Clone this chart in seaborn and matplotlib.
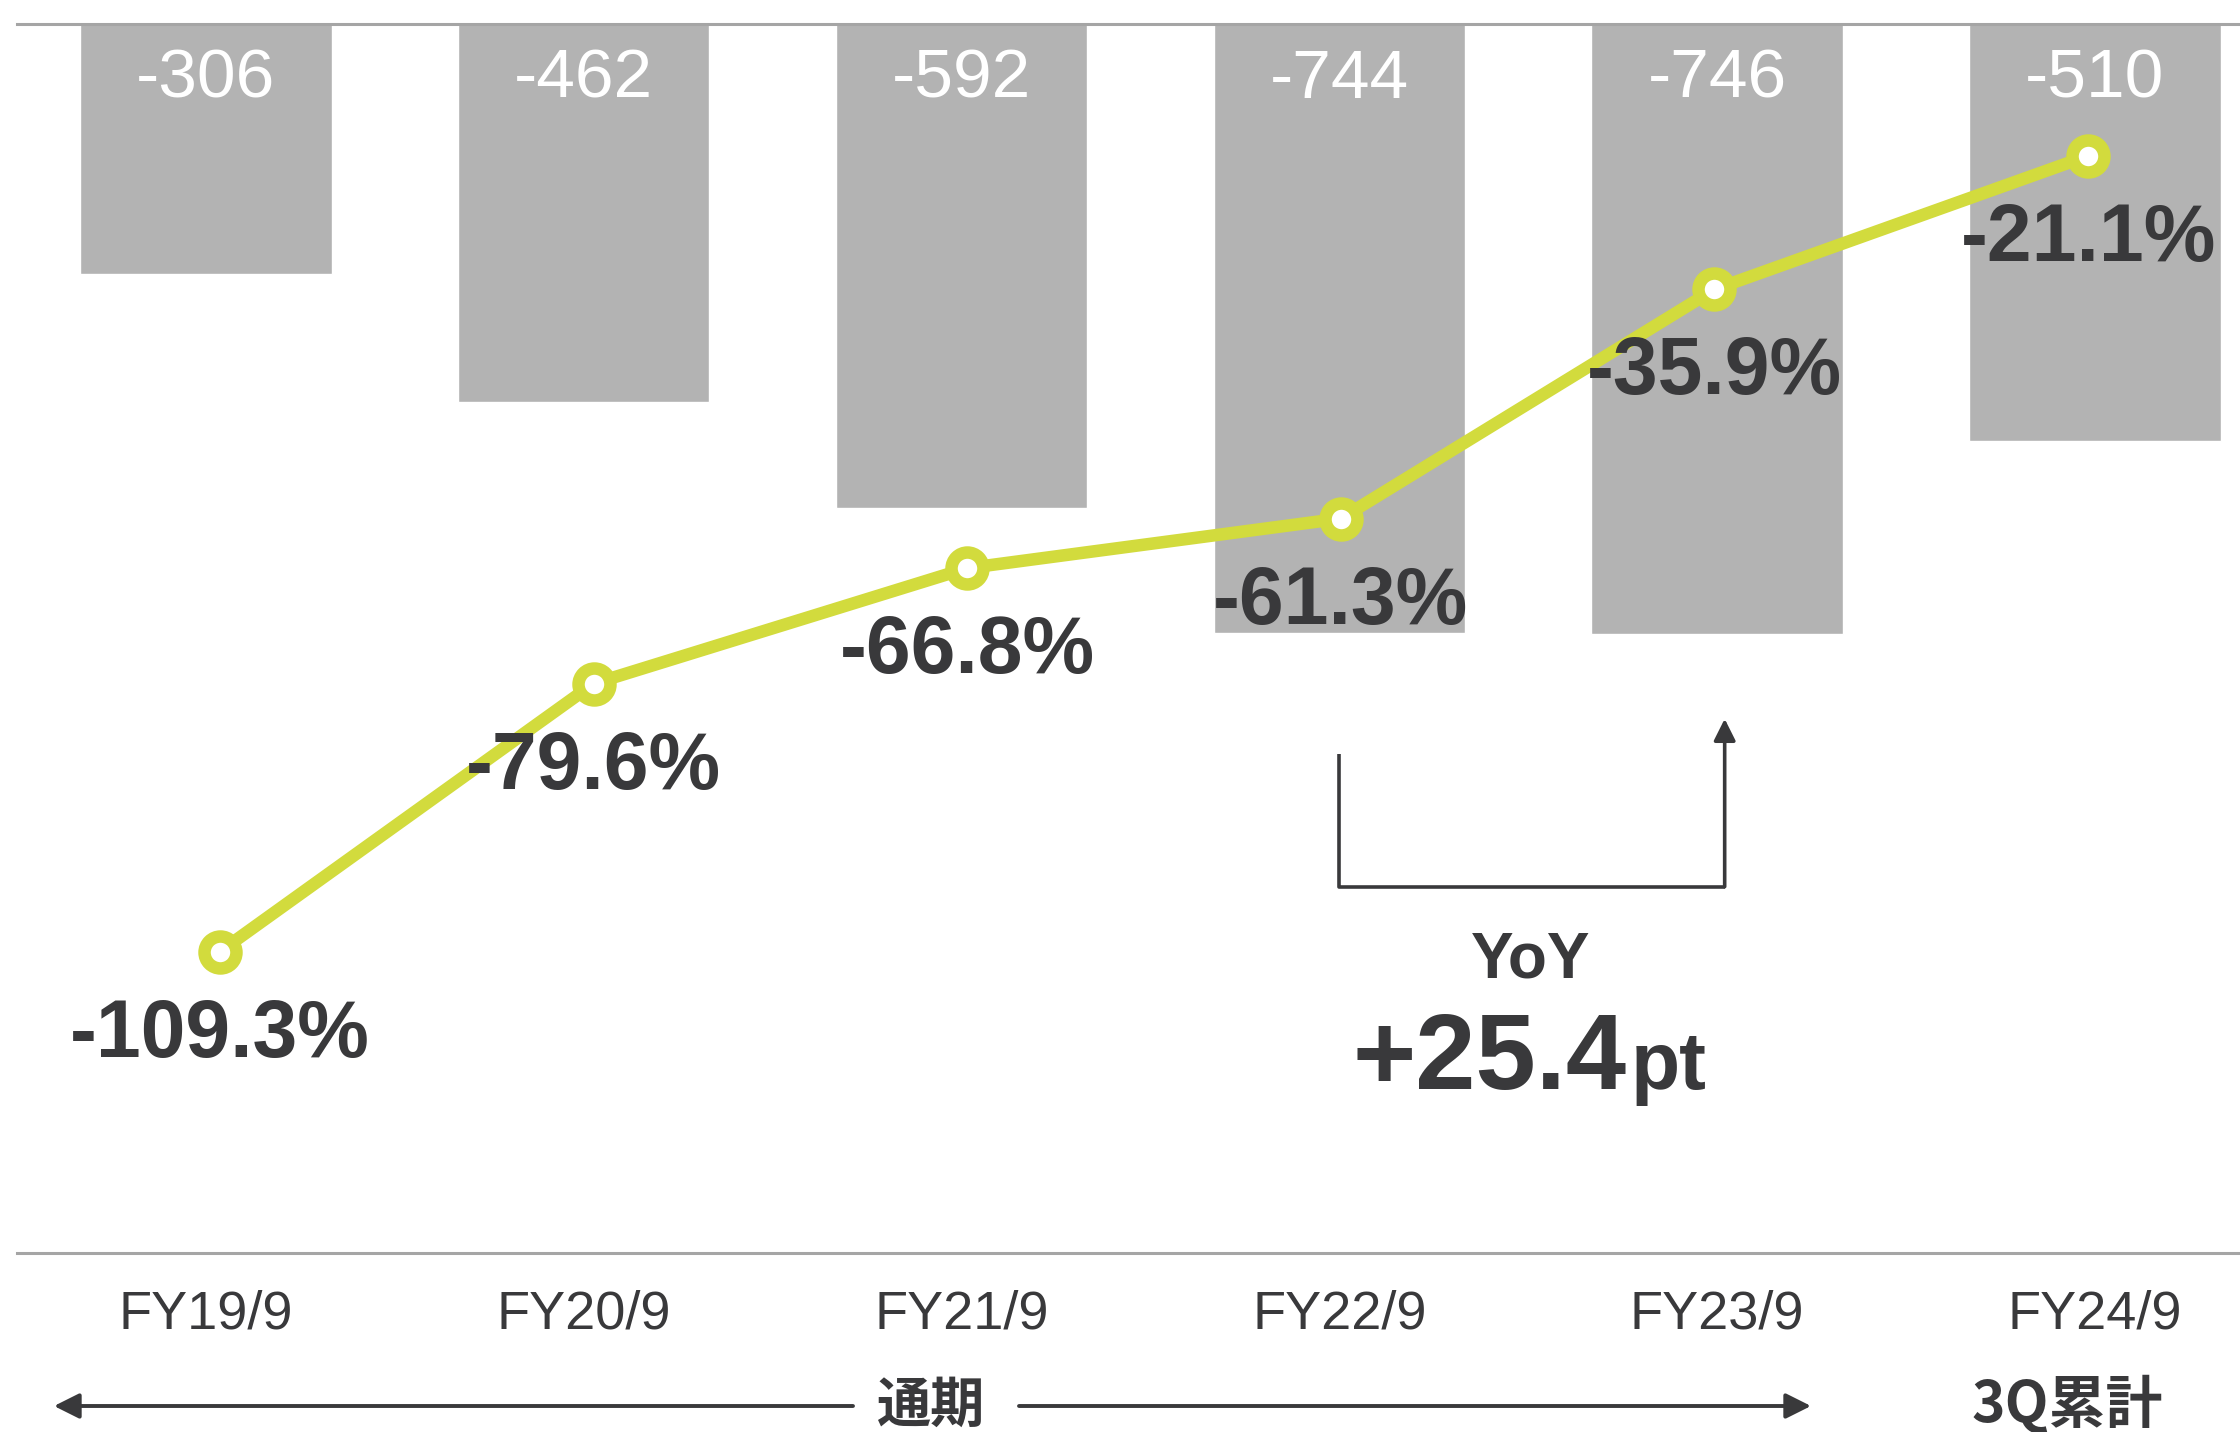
import numpy as np
import pandas as pd
import matplotlib
matplotlib.use("Agg")
import matplotlib.pyplot as plt
import seaborn as sns

# Operating loss (bars) and operating margin (line) by fiscal year
categories = ["FY19/9", "FY20/9", "FY21/9", "FY22/9", "FY23/9", "FY24/9"]
op_loss = [-306, -462, -592, -744, -746, -510]
margin_pct = [-109.3, -79.6, -66.8, -61.3, -35.9, -21.1]
yoy_label = "+25.4"
period_full = "通期"
period_q3 = "3Q累計"

sns.set_theme(style="white")
plt.rcParams["font.family"] = ["Liberation Sans", "Noto Sans CJK JP", "DejaVu Sans"]

W, H = 2240, 1432
DARK = "#39393b"
BAR = "#b3b3b3"
LINE = "#d2db3d"
SPINE = "#a5a5a5"

fig = plt.figure(figsize=(W / 100, H / 100), dpi=100)
top_px, bot_px, left_px = 24, 1253, 17
ax = fig.add_axes([left_px / W, 1 - bot_px / H, 1 - left_px / W, (bot_px - top_px) / H])

df = pd.DataFrame({"period": categories, "loss": op_loss, "margin": margin_pct})

sns.barplot(data=df, x="period", y="loss", ax=ax, color=BAR, saturation=1,
            width=0.665, zorder=1)
ax.set_ylim(-1502, 0)
ax.set_xlim(-0.5, 5.384)
ax.set_ylabel("")
ax.set_xlabel("")
ax.set_yticks([])
ax.tick_params(axis="x", length=0, pad=26, labelsize=39, labelcolor=DARK)
for side in ["left", "right"]:
    ax.spines[side].set_visible(False)
for side in ["top", "bottom"]:
    ax.spines[side].set_visible(True)
    ax.spines[side].set_color(SPINE)
    ax.spines[side].set_linewidth(2.2)

for i, v in enumerate(op_loss):
    ax.annotate(f"{v:d}", xy=(i, 0), xytext=(0, -56), textcoords="offset pixels",
                ha="center", va="center", color="white", fontsize=50, zorder=3)

# Margin line on a secondary scale (points sit slightly inside the bar centres)
ax2 = ax.twinx()
ax2.set_ylim(-142.7, -6.49)
ax2.set_yticks([])
for s in ax2.spines.values():
    s.set_visible(False)
line_x = np.arange(len(categories)) * 0.989 + 0.037
sns.lineplot(x=line_x, y=margin_pct, ax=ax2, color=LINE, linewidth=9, marker="o",
             markersize=23, markerfacecolor="white", markeredgecolor=LINE,
             markeredgewidth=9, zorder=4)
ax2.set_xlim(-0.5, 5.384)

for x, p in zip(line_x, margin_pct):
    ax2.annotate(f"{p:.1f}%", xy=(x, p), xytext=(0, -84), textcoords="offset pixels",
                 ha="center", va="center", color=DARK, fontsize=58,
                 fontweight="bold", zorder=6)

# YoY bracket between FY22/9 and FY23/9
ax2.plot([3.0, 3.0, 4.02], [-87.4, -102.1, -102.1], color=DARK, lw=2.6,
         solid_capstyle="butt", zorder=5)
ax2.annotate("", xy=(4.02, -83.5), xytext=(4.02, -102.1),
             arrowprops=dict(arrowstyle="-|>,head_length=0.6,head_width=0.3",
                             color=DARK, lw=2.6, mutation_scale=22,
                             shrinkA=0, shrinkB=0), zorder=5)

fig.text(1531 / W, 1 - 960 / H, "YoY", ha="center", va="center", fontsize=46,
         fontweight="bold", color=DARK)
split_x = 1627
fig.text(split_x / W, 1 - 1089 / H, yoy_label, ha="right", va="baseline",
         fontsize=78, fontweight="bold", color=DARK)
fig.text((split_x + 4) / W, 1 - 1089 / H, "pt", ha="left", va="baseline",
         fontsize=58, fontweight="bold", color=DARK)

# Period arrows along the bottom
yb = H - 1406
arrow_kw = dict(arrowstyle="-|>,head_length=0.7,head_width=0.35", color=DARK,
                lw=2.8, mutation_scale=22, shrinkA=0, shrinkB=0)
ax.annotate("", xy=(54, yb), xytext=(853, yb), xycoords="figure pixels",
            textcoords="figure pixels", arrowprops=arrow_kw, annotation_clip=False)
ax.annotate("", xy=(1811, yb), xytext=(1019, yb), xycoords="figure pixels",
            textcoords="figure pixels", arrowprops=arrow_kw, annotation_clip=False)
fig.text(931 / W, yb / H, period_full, ha="center", va="center", fontsize=39,
         fontweight="bold", color=DARK, family=["Noto Sans CJK JP", "DejaVu Sans"])
fig.text(2067 / W, yb / H, period_q3, ha="center", va="center", fontsize=41,
         fontweight="bold", color=DARK, family=["Noto Sans CJK JP", "DejaVu Sans"])

fig.savefig("out.png", dpi=100)
